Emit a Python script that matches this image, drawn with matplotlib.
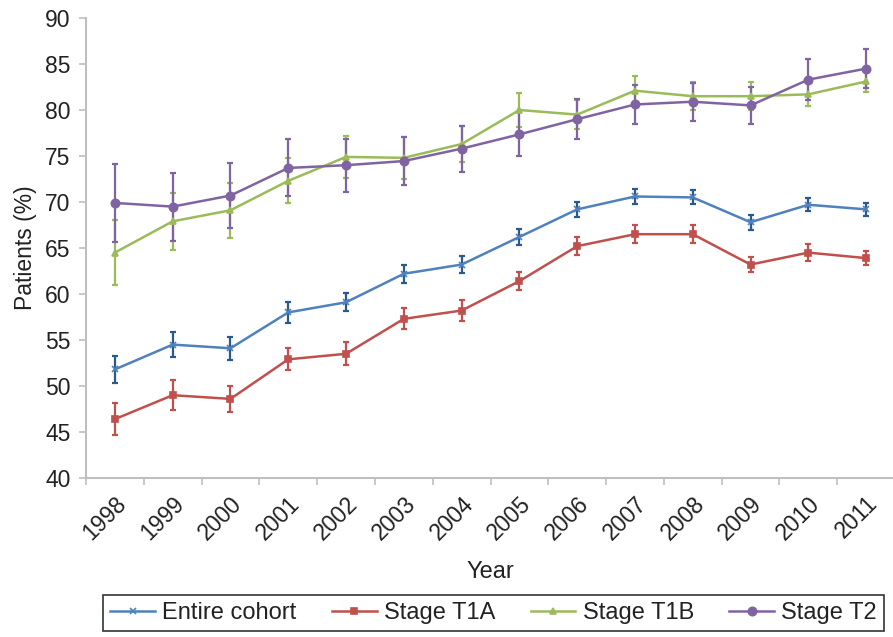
import matplotlib
matplotlib.use('Agg')
import matplotlib.pyplot as plt
import numpy as np

plt.rcParams['font.family'] = ['Liberation Sans', 'DejaVu Sans']

# Data
years = ['1998', '1999', '2000', '2001', '2002', '2003', '2004',
         '2005', '2006', '2007', '2008', '2009', '2010', '2011']

entire = [51.8, 54.5, 54.1, 58.0, 59.1, 62.2, 63.2,
          66.2, 69.2, 70.6, 70.5, 67.8, 69.7, 69.2]
entire_err = [1.5, 1.35, 1.25, 1.1, 1.0, 1.0, 0.95,
              0.85, 0.8, 0.8, 0.75, 0.8, 0.7, 0.7]

t1a = [46.4, 49.0, 48.6, 52.9, 53.5, 57.3, 58.2,
       61.4, 65.2, 66.5, 66.5, 63.2, 64.5, 63.9]
t1a_err = [1.7, 1.6, 1.45, 1.2, 1.25, 1.15, 1.1,
           1.0, 0.95, 0.95, 0.95, 0.85, 0.9, 0.8]

t1b = [64.5, 67.9, 69.1, 72.3, 74.9, 74.8, 76.3,
       80.0, 79.5, 82.1, 81.5, 81.5, 81.7, 83.1]
t1b_err = [3.5, 3.1, 3.0, 2.45, 2.3, 2.25, 1.95,
           1.8, 1.6, 1.6, 1.5, 1.55, 1.3, 1.1]

t2 = [69.9, 69.5, 70.7, 73.7, 74.0, 74.45, 75.8,
      77.35, 79.0, 80.6, 80.9, 80.5, 83.3, 84.5]
t2_err = [4.2, 3.7, 3.5, 3.1, 2.9, 2.65, 2.5,
          2.4, 2.2, 2.1, 2.05, 2.05, 2.2, 2.15]

series = [
    ('Entire cohort', entire, entire_err, '#4F81BD', '#2A5A8C', 'x', 4),
    ('Stage T1A', t1a, t1a_err, '#C0504D', '#C0504D', 's', 4),
    ('Stage T1B', t1b, t1b_err, '#9BBB59', '#9BBB59', '^', 4),
    ('Stage T2', t2, t2_err, '#8064A2', '#8064A2', 'o', 6),
]

fig = plt.figure(figsize=(8.93, 6.37), dpi=100)
ax = fig.add_axes([86 / 893, 159 / 637, 809 / 893, 460 / 637])

x = np.arange(len(years))
handles = []
for name, vals, err, color, ecolor, marker, ms in series:
    ax.errorbar(x, vals, yerr=err, fmt='none', ecolor=ecolor,
                elinewidth=1.6, capsize=2.5, capthick=1.6, zorder=2)
    h, = ax.plot(x, vals, color=color, lw=1.8, marker=marker, ms=ms,
                 mew=1.2, label=name, zorder=3)
    handles.append(h)

ax.set_xlim(-0.5, len(years) - 0.5)
ax.set_ylim(40, 90)
ax.set_yticks(np.arange(40, 91, 5))
ax.set_xticks(x)
ax.set_xticklabels(years, rotation=45, ha='right', rotation_mode='anchor')
ax.set_xticks(np.arange(-0.5, len(years), 1), minor=True)
ax.tick_params(axis='x', which='major', length=0, labelsize=16.5, pad=10,
               colors='#222222')
ax.tick_params(axis='x', which='minor', length=5, color='#BFBFBF', width=1.2)
ax.tick_params(axis='y', length=5, color='#BFBFBF', width=1.2, labelsize=16.5,
               pad=6, labelcolor='#222222')

for s in ['top', 'right']:
    ax.spines[s].set_visible(False)
for s in ['left', 'bottom']:
    ax.spines[s].set_color('#BFBFBF')
    ax.spines[s].set_linewidth(1.5)

ax.set_xlabel('Year', fontsize=17, color='#222222', labelpad=12)
ax.set_ylabel('Patients (%)', fontsize=16.5, color='#222222', labelpad=6)

leg = fig.legend(handles=handles, loc='center', ncol=4,
                 bbox_to_anchor=(493.5 / 893, 1 - 613 / 637),
                 fontsize=17, frameon=True, fancybox=False,
                 handlelength=1.9, columnspacing=1.5, handletextpad=0.3,
                 borderpad=0.3)
leg.get_frame().set_edgecolor('black')
leg.get_frame().set_linewidth(1.2)
for t in leg.get_texts():
    t.set_color('#222222')

fig.savefig('out.png', dpi=100)
